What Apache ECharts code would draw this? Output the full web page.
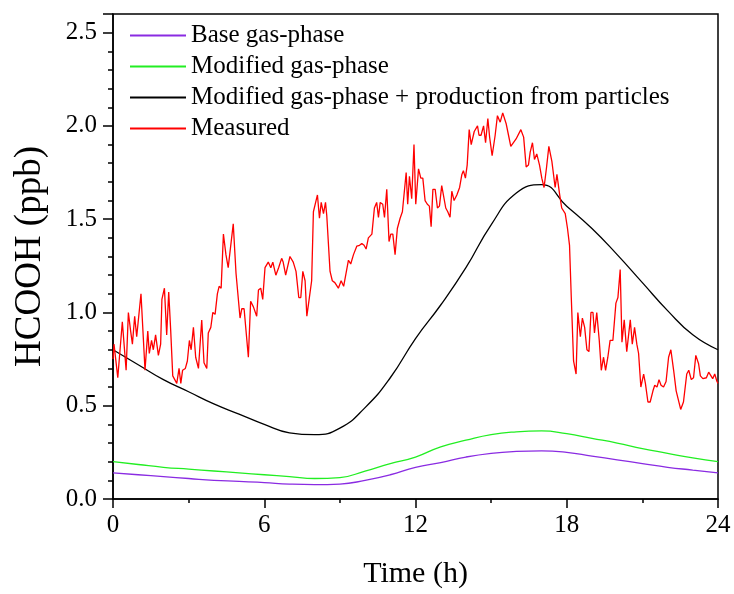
<!DOCTYPE html>
<html>
<head>
<meta charset="utf-8">
<script src="https://cdn.jsdelivr.net/npm/echarts@6/dist/echarts.min.js"></script>
<style>
  html, body { margin: 0; padding: 0; background: #fff; }
  #main { width: 734px; height: 594px; }
</style>
</head>
<body>
<div id="main"></div>
<script>
// model output, hourly
var hours = [0,1,2,3,4,5,6,7,8,9,10,11,12,13,14,15,16,17,18,19,20,21,22,23,24];
var baseGas = [0.14,0.13,0.12,0.11,0.10,0.095,0.088,0.08,0.077,0.08,0.10,0.13,0.17,0.195,0.225,0.245,0.255,0.258,0.25,0.23,0.21,0.19,0.17,0.155,0.14];
var modGas = [0.20,0.185,0.17,0.16,0.15,0.14,0.13,0.12,0.11,0.115,0.15,0.19,0.225,0.28,0.315,0.345,0.36,0.365,0.35,0.325,0.30,0.27,0.245,0.22,0.20];
var modGasPart = [0.80,0.72,0.64,0.575,0.51,0.455,0.40,0.355,0.345,0.38,0.49,0.65,0.86,1.04,1.24,1.47,1.64,1.685,1.57,1.45,1.31,1.16,1.01,0.88,0.80];

// measured HCOOH
var measTime = [0,0.04,0.19,0.28,0.37,0.52,0.61,0.70,0.77,0.86,0.94,1.11,1.27,1.38,1.44,1.53,1.60,1.69,1.80,1.89,1.94,2.04,2.13,2.21,2.29,2.37,2.53,2.62,2.69,2.76,2.87,2.95,3.03,3.10,3.19,3.28,3.39,3.52,3.61,3.72,3.78,3.88,3.96,4.05,4.14,4.21,4.29,4.38,4.48,4.57,4.64,4.77,4.88,5.04,5.11,5.20,5.37,5.46,
  5.57,5.70,5.77,5.86,5.94,6.03,6.16,6.26,6.34,6.46,6.57,6.69,6.75,6.85,7.02,7.15,7.26,7.37,7.45,7.53,7.62,7.69,7.79,7.88,7.95,8.11,8.19,8.26,8.35,8.43,8.48,8.61,8.70,8.80,8.94,9.05,9.15,9.22,9.34,9.43,9.54,9.67,9.78,9.87,9.96,10.04,10.13,10.27,10.37,10.46,10.53,10.60,10.70,10.77,10.86,10.95,11.02,11.10,11.19,11.28,11.39,11.48,11.55,11.63,11.69,11.76,
  11.85,11.94,12.01,12.12,12.21,12.29,12.38,12.47,12.55,12.62,12.69,12.78,12.87,12.95,13.04,13.11,13.20,13.28,13.37,13.44,13.53,13.64,13.75,13.84,13.90,13.98,14.05,14.13,14.21,14.33,14.46,14.52,14.60,14.70,14.78,14.87,14.94,15.04,15.16,15.25,15.36,15.46,15.60,15.69,15.78,15.99,16.18,16.29,16.39,16.48,16.55,16.64,16.72,16.81,16.92,17.01,17.10,17.20,17.29,17.41,17.54,17.61,17.72,
  17.80,17.94,18.03,18.11,18.18,18.27,18.37,18.44,18.54,18.62,18.71,18.80,18.88,18.96,19.04,19.10,19.19,19.29,19.37,19.46,19.54,19.63,19.72,19.83,19.88,19.95,20.03,20.12,20.19,20.28,20.38,20.52,20.60,20.69,20.78,20.85,20.94,21.05,21.12,21.22,21.31,21.42,21.49,21.58,21.66,21.74,21.84,21.94,22.04,22.13,22.24,22.34,22.43,22.52,22.63,22.69,22.76,22.84,22.94,23.03,23.12,23.23,23.30,23.40,23.54,23.63,23.70,23.79,23.87,23.96,24];
var measVal = [0.75,0.83,0.65,0.80,0.95,0.69,1.00,0.90,0.83,0.98,0.87,1.10,0.69,0.90,0.78,0.85,0.80,0.88,0.77,0.83,1.07,1.13,0.88,1.11,0.90,0.66,0.62,0.70,0.62,0.69,0.70,0.74,0.85,0.80,0.92,0.76,0.70,0.96,0.73,0.70,0.89,0.92,1.00,0.99,1.10,1.14,1.13,1.42,1.31,1.24,1.24,1.475,1.21,0.97,1.02,1.02,0.76,1.06,
  1.03,0.98,1.12,1.13,1.07,1.24,1.27,1.24,1.27,1.20,1.24,1.29,1.27,1.20,1.30,1.27,1.22,1.08,1.08,1.22,1.17,0.98,1.08,1.17,1.54,1.63,1.505,1.59,1.53,1.59,1.52,1.22,1.17,1.16,1.13,1.17,1.14,1.14,1.28,1.26,1.31,1.355,1.36,1.37,1.36,1.34,1.40,1.42,1.56,1.59,1.51,1.59,1.58,1.51,1.66,1.38,1.42,1.42,1.31,1.45,1.505,1.54,1.54,1.75,1.58,1.73,
  1.61,1.90,1.58,1.77,1.72,1.72,1.60,1.58,1.57,1.46,1.66,1.66,1.56,1.57,1.68,1.69,1.56,1.54,1.51,1.65,1.60,1.63,1.67,1.74,1.76,1.72,1.79,1.98,1.90,1.97,2.00,1.95,1.95,2.00,1.91,2.04,1.94,1.84,1.95,2.055,2.02,2.07,2.01,1.95,1.89,1.93,1.98,1.94,1.78,1.79,1.86,1.91,1.82,1.85,1.79,1.72,1.67,1.78,1.89,1.81,1.67,1.74,1.63,
  1.56,1.53,1.45,1.36,1.08,0.74,0.67,1.00,0.87,0.97,0.92,0.80,0.79,1.00,1.00,0.89,1.00,0.85,0.69,0.76,0.69,0.76,0.85,0.85,0.84,1.05,1.08,1.23,0.84,0.96,0.79,0.96,0.83,0.92,0.83,0.78,0.60,0.67,0.62,0.52,0.52,0.58,0.61,0.60,0.64,0.61,0.60,0.63,0.76,0.80,0.69,0.58,0.53,0.48,0.52,0.53,0.67,0.69,0.64,0.65,0.77,0.725,0.66,0.645,0.65,0.68,0.68,0.645,0.67,0.63,0.62];

function pairs(xs, ys){
  var out = [];
  for (var i = 0; i < xs.length; i++) out.push([xs[i], ys[i]]);
  return out;
}

var serif = '"Liberation Serif", "Times New Roman", serif';
var myChart = echarts.init(document.getElementById('main'));

var option = {
  backgroundColor: '#fff',
  animation: false,
  grid: {
    left: 113, right: 16, top: 14, bottom: 91,
    show: true, borderColor: '#000', borderWidth: 1.5
  },
  legend: {
    orient: 'vertical',
    left: 124, top: 18,
    itemWidth: 56, itemHeight: 14, itemGap: 6,
    itemStyle: { opacity: 0 },
    textStyle: { fontFamily: serif, fontSize: 25, color: '#000', lineHeight: 25 },
    data: ['Base gas-phase', 'Modified gas-phase', 'Modified gas-phase + production from particles', 'Measured']
  },
  xAxis: {
    type: 'value', min: 0, max: 24, interval: 6,
    name: 'Time (h)', nameLocation: 'middle', nameGap: 60,
    nameTextStyle: { fontFamily: serif, fontSize: 30, color: '#000' },
    axisLine: { lineStyle: { color: '#000', width: 1.5 } },
    axisTick: { length: 9, lineStyle: { color: '#000', width: 1.5 } },
    minorTick: { show: true, splitNumber: 2, length: 4, lineStyle: { color: '#000', width: 1.5 } },
    axisLabel: { fontFamily: serif, fontSize: 25, color: '#000', margin: 14 },
    splitLine: { show: false }
  },
  yAxis: [{
    type: 'value', min: 0, max: 2.6, interval: 0.5,
    name: 'HCOOH (ppb)', nameLocation: 'middle', nameGap: 64,
    nameTextStyle: { fontFamily: serif, fontSize: 37, color: '#000' },
    axisLine: { lineStyle: { color: '#000', width: 1.5 } },
    axisTick: { length: 10, lineStyle: { color: '#000', width: 1.5 } },
    axisLabel: {
      fontFamily: serif, fontSize: 25, color: '#000', margin: 16,
      formatter: function(v){
        return Math.abs(v * 2 - Math.round(v * 2)) < 1e-6 ? v.toFixed(1) : '';
      }
    },
    splitLine: { show: false }
  }, {
    // minor ticks every 0.1
    type: 'value', min: 0, max: 2.6, interval: 0.1, position: 'left',
    axisLine: { show: false },
    axisTick: { length: 5, lineStyle: { color: '#000', width: 1.5 } },
    axisLabel: { show: false },
    splitLine: { show: false }
  }],
  series: [
    { name: 'Base gas-phase', type: 'line', symbol: 'none', smooth: true,
      lineStyle: { color: '#8a2be2', width: 1.3 }, itemStyle: { color: '#8a2be2' },
      data: pairs(hours, baseGas) },
    { name: 'Modified gas-phase', type: 'line', symbol: 'none', smooth: true,
      lineStyle: { color: '#22ee22', width: 1.3 }, itemStyle: { color: '#22ee22' },
      data: pairs(hours, modGas) },
    { name: 'Modified gas-phase + production from particles', type: 'line', symbol: 'none', smooth: true,
      lineStyle: { color: '#000', width: 1.3 }, itemStyle: { color: '#000' },
      data: pairs(hours, modGasPart) },
    { name: 'Measured', type: 'line', symbol: 'none',
      lineStyle: { color: '#ff0000', width: 1.3 }, itemStyle: { color: '#ff0000' },
      data: pairs(measTime, measVal) }
  ]
};
myChart.setOption(option);
</script>
</body>
</html>
